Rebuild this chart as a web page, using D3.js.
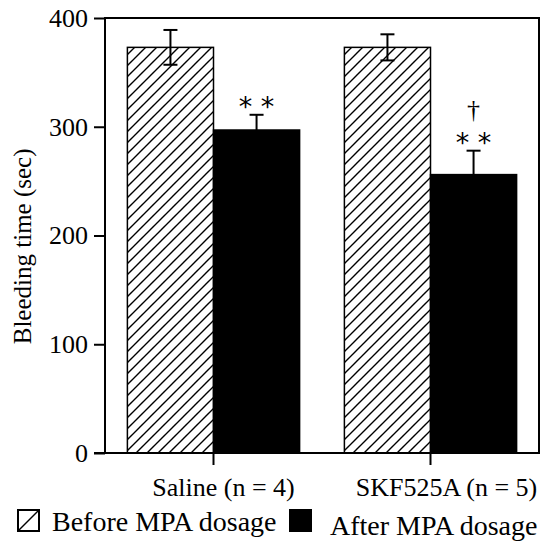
<!DOCTYPE html>
<html>
<head>
<meta charset="utf-8">
<script src="https://cdn.jsdelivr.net/npm/d3@7"></script>
<style>
  body { margin: 0; background: #fff; }
  text { font-family: "Liberation Serif", "Times New Roman", serif; fill: #000; }
</style>
</head>
<body>
<div id="chart"></div>
<script>
const groups = ['Saline (n = 4)', 'SKF525A (n = 5)'];
const conditions = ['before', 'after'];
const legendLabels = ['Before MPA dosage', 'After MPA dosage'];
const beforeMean = [373, 373];
const beforeErr = [16, 12];
const afterMean = [297, 256];
const afterErr = [14, 22];
const yTicks = [0, 100, 200, 300, 400];
const marks = [['* *'], ['* *', '†']];

const width = 542, height = 543;
const margin = {top: 18, right: 3, bottom: 90, left: 105};

const svg = d3.select('#chart').append('svg')
  .attr('width', width)
  .attr('height', height);

// hatch pattern for "before"
const defs = svg.append('defs');
const pat = defs.append('pattern')
  .attr('id', 'hatch')
  .attr('patternUnits', 'userSpaceOnUse')
  .attr('width', 11)
  .attr('height', 11);
pat.append('rect').attr('width', 11).attr('height', 11).attr('fill', '#fff');
pat.append('path')
  .attr('d', 'M0,11 L11,0 M-3,3 L3,-3 M8,14 L14,8')
  .attr('stroke', '#000')
  .attr('stroke-width', 1.4);

const x0 = d3.scaleBand()
  .domain(groups)
  .range([margin.left, width - margin.right]);

const x1 = d3.scaleBand()
  .domain(conditions)
  .range([0, x0.bandwidth()])
  .paddingOuter(0.26);

const y = d3.scaleLinear()
  .domain([0, 400])
  .range([height - margin.bottom, margin.top]);

const rows = groups.map((g, i) => ({
  group: g,
  bars: [
    {cond: 'before', mean: beforeMean[i], err: beforeErr[i]},
    {cond: 'after', mean: afterMean[i], err: afterErr[i]}
  ],
  marks: marks[i]
}));

// frame
svg.append('rect')
  .attr('x', margin.left)
  .attr('y', y(400))
  .attr('width', width - margin.right - margin.left)
  .attr('height', y(0) - y(400))
  .attr('fill', 'none')
  .attr('stroke', '#000')
  .attr('stroke-width', 2);

const g = svg.selectAll('.grp')
  .data(rows)
  .enter().append('g')
  .attr('class', 'grp')
  .attr('transform', d => `translate(${x0(d.group)},0)`);

g.selectAll('rect.bar')
  .data(d => d.bars)
  .enter().append('rect')
  .attr('class', 'bar')
  .attr('x', d => x1(d.cond))
  .attr('y', d => y(d.mean))
  .attr('width', x1.bandwidth())
  .attr('height', d => y(0) - y(d.mean))
  .attr('fill', d => d.cond === 'before' ? 'url(#hatch)' : '#000')
  .attr('stroke', '#000')
  .attr('stroke-width', 1.5);

// error bars
const eb = g.selectAll('g.err')
  .data(d => d.bars)
  .enter().append('g')
  .attr('class', 'err')
  .attr('transform', d => `translate(${x1(d.cond) + x1.bandwidth() / 2},0)`);
eb.append('line')
  .attr('y1', d => y(d.mean - d.err))
  .attr('y2', d => y(d.mean + d.err))
  .attr('stroke', '#000').attr('stroke-width', 2);
eb.selectAll('line.cap')
  .data(d => [d.mean - d.err, d.mean + d.err])
  .enter().append('line')
  .attr('class', 'cap')
  .attr('x1', -7).attr('x2', 7)
  .attr('y1', v => y(v)).attr('y2', v => y(v))
  .attr('stroke', '#000').attr('stroke-width', 2);

// significance marks above "after" bars
g.each(function(d) {
  const a = d.bars[1];
  const cx = x1('after') + x1.bandwidth() / 2;
  const top = y(a.mean + a.err);
  d3.select(this).append('text')
    .attr('x', cx)
    .attr('y', top + 1)
    .attr('text-anchor', 'middle')
    .style('font-family', '"DejaVu Sans", sans-serif')
    .style('font-size', '27px')
    .text(d.marks[0]);
  if (d.marks[1]) {
    d3.select(this).append('text')
      .attr('x', cx)
      .attr('y', top - 33)
      .attr('text-anchor', 'middle')
      .style('font-size', '26px')
      .text(d.marks[1]);
  }
});

// y axis
const yAxis = svg.append('g')
  .attr('transform', `translate(${margin.left},0)`)
  .call(d3.axisLeft(y).tickValues(yTicks).tickSize(11).tickPadding(6));
yAxis.select('.domain').remove();
yAxis.selectAll('line').attr('stroke-width', 2);
yAxis.selectAll('text').style('font-size', '26px').style('font-family', '"Liberation Serif", serif');

// x axis
const xAxis = svg.append('g')
  .attr('transform', `translate(0,${y(0)})`)
  .call(d3.axisBottom(x0).tickSize(12).tickSizeOuter(0).tickPadding(8));
xAxis.select('.domain')
  .attr('d', `M${margin.left - 11},0H${width - margin.right}`)
  .attr('stroke-width', 2);
xAxis.selectAll('line').attr('stroke-width', 2);
xAxis.selectAll('text')
  .attr('dx', (d, i) => i === 0 ? 10 : 16)
  .attr('dy', '0.9em')
  .style('font-size', '26px')
  .style('font-family', '"Liberation Serif", serif');

// y title
svg.append('text')
  .attr('transform', `translate(22,${y(190)}) rotate(-90)`)
  .attr('text-anchor', 'middle')
  .attr('dy', '0.35em')
  .style('font-size', '25px')
  .text('Bleeding time (sec)');

// legend
const legendX = [18, 290];
const leg = svg.selectAll('.leg')
  .data(conditions)
  .enter().append('g')
  .attr('class', 'leg')
  .attr('transform', (d, i) => `translate(${legendX[i]},510)`);
leg.append('rect')
  .attr('width', 21).attr('height', 21)
  .attr('fill', d => d === 'before' ? '#fff' : '#000')
  .attr('stroke', '#000').attr('stroke-width', 2);
leg.filter(d => d === 'before').append('line')
  .attr('x1', 1).attr('y1', 20).attr('x2', 20).attr('y2', 1)
  .attr('stroke', '#000').attr('stroke-width', 1.5);
leg.append('text')
  .attr('x', (d, i) => i === 0 ? 34 : 40)
  .attr('y', (d, i) => i === 0 ? 21 : 25)
  .style('font-size', '28px')
  .text((d, i) => legendLabels[i]);
</script>
</body>
</html>
